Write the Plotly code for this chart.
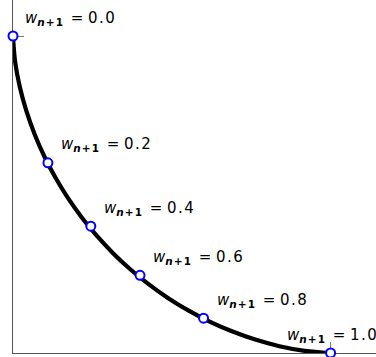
import plotly.graph_objects as go

# curve (front from (0,1) to (1,0))
curve_x = [0.0, 0.0068, 0.0215, 0.0423, 0.0684, 0.0992, 0.1344, 0.1738, 0.2172, 0.2643,
           0.3150, 0.3692, 0.4268, 0.4877, 0.5518, 0.6191, 0.6894, 0.7627, 0.8389, 0.9181, 1.0]
curve_y = list(reversed(curve_x))

# marked points
weights = ["0.0", "0.2", "0.4", "0.6", "0.8", "1.0"]
point_x = [0.0, 0.11, 0.245, 0.40, 0.60, 1.0]
point_y = [1.0, 0.60, 0.40, 0.245, 0.11, 0.0]
label_shift_x = [10, 11, 11, 11, 11, -46]

fig = go.Figure()
fig.add_trace(go.Scatter(x=curve_x, y=curve_y, mode="lines",
                         line=dict(color="black", width=4.2, shape="spline"),
                         cliponaxis=False, hoverinfo="skip"))
fig.add_trace(go.Scatter(x=point_x, y=point_y, mode="markers",
                         marker=dict(size=9, color="white",
                                     line=dict(color="#0000ff", width=2)),
                         cliponaxis=False))

for w, px, py, sx in zip(weights, point_x, point_y, label_shift_x):
    num = w.replace(".", "\u200a.\u200a")
    fig.add_annotation(x=px, y=py, xref="x", yref="y", showarrow=False,
                       xanchor="left", yanchor="middle", xshift=sx, yshift=18,
                       text=("<i>w</i><sub><b><i>n</i>\u200a+\u200a1</b></sub>"
                             "\u2009\u00a0=\u00a0" + num),
                       font=dict(family="DejaVu Sans", size=15, color="black"))

fig.update_layout(
    width=376, height=357,
    margin=dict(l=13, r=0, t=0, b=4),
    paper_bgcolor="white", plot_bgcolor="white",
    showlegend=False,
    xaxis=dict(range=[0, 1.143], showgrid=False, zeroline=False, showline=True,
               linecolor="#555", linewidth=1, ticks="inside", tickvals=[1],
               ticklen=11, tickcolor="#777", showticklabels=False,
               layer="below traces"),
    yaxis=dict(range=[0, 1.1136], showgrid=False, zeroline=False, showline=True,
               linecolor="#555", linewidth=1, ticks="inside", tickvals=[1],
               ticklen=11, tickcolor="#777", showticklabels=False,
               layer="below traces"),
)

fig.write_html("out.html", config={"displayModeBar": False},
               post_script="document.body.style.margin='0';")
